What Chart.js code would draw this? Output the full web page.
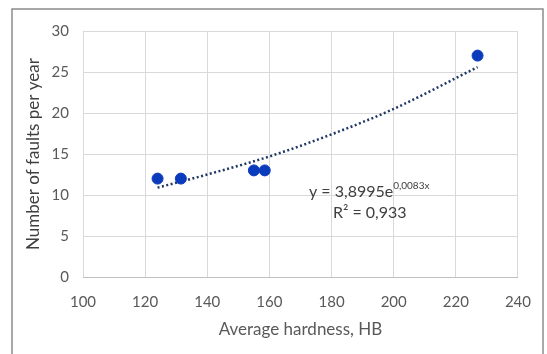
<!DOCTYPE html>
<html lang="en">
<head>
  <meta charset="UTF-8" />
  <title>Faults vs hardness</title>
  <script src="https://cdn.jsdelivr.net/npm/chart.js"></script>
  <style>
    html, body { margin: 0; padding: 0; background: #fff; }
    #wrap { width: 547px; height: 354px; position: relative; }
  </style>
</head>
<body>
  <div id="wrap"><canvas id="chart" width="547" height="354"></canvas></div>
  <script>
    // measured points
    const hardness = [124, 131.5, 155, 158.5, 227];
    const faults = [12, 12, 13, 13, 27];
    // exponential trendline
    const trendX = [124, 140, 160, 180, 200, 227];
    const trendY = [10.9, 12.5, 14.7, 17.4, 20.5, 25.6];
    const equationText = "y = 3,8995e";
    const equationExp = "0,0083x";
    const r2Text = "R\u00b2 = 0,933";

    const FONT = "Lato, 'Liberation Sans', sans-serif";
    const GREY = "#595959";

    const frameAndLabels = {
      id: "frameAndLabels",
      afterDraw(chart) {
        const ctx = chart.ctx;
        ctx.save();
        ctx.strokeStyle = "#8c8c8c";
        ctx.lineWidth = 1.5;
        ctx.strokeRect(12, 9, 531, 360);
        ctx.fillStyle = "#404040";
        ctx.textBaseline = "alphabetic";
        ctx.font = "16px " + FONT;
        ctx.fillText(equationText, 309, 197);
        const w = ctx.measureText(equationText).width;
        ctx.font = "10px " + FONT;
        ctx.fillText(equationExp, 309 + w, 189);
        ctx.font = "16px " + FONT;
        ctx.fillText(r2Text, 333, 218);
        ctx.restore();
      }
    };

    new Chart(document.getElementById("chart"), {
      type: "scatter",
      data: {
        datasets: [
          {
            label: "Faults",
            data: hardness.map((x, i) => ({ x, y: faults[i] })),
            backgroundColor: "#0b3bbd",
            borderColor: "#0b3bbd",
            pointRadius: 5.5,
            order: 1
          },
          {
            label: "Trend",
            type: "line",
            data: trendX.map((x, i) => ({ x, y: trendY[i] })),
            borderColor: "#203864",
            borderWidth: 2.5,
            borderDash: [2, 2.5],
            pointRadius: 0,
            fill: false,
            cubicInterpolationMode: "monotone",
            order: 2
          }
        ]
      },
      options: {
        responsive: false,
        animation: false,
        layout: { padding: { left: 0, top: 31, right: 22, bottom: 0 } },
        plugins: { legend: { display: false }, tooltip: { enabled: false } },
        scales: {
          x: {
            type: "linear",
            min: 100, max: 240,
            ticks: { stepSize: 20, color: GREY, font: { family: FONT, size: 15 }, padding: 16 },
            grid: { color: "#d9d9d9", drawTicks: false },
            border: { display: true, color: "#bfbfbf" },
            title: { display: true, text: "Average hardness, HB", color: GREY, font: { family: FONT, size: 17 }, padding: { top: 0, bottom: 14 } },
            afterFit(scale) { scale.height = 77; }
          },
          y: {
            min: 0, max: 30,
            ticks: { stepSize: 5, color: GREY, font: { family: FONT, size: 15 }, padding: 14 },
            grid: { color: "#d9d9d9", drawTicks: false },
            border: { display: false },
            title: { display: true, text: "Number of faults per year", color: "#404040", font: { family: FONT, size: 17 }, padding: { top: 23, bottom: 0 } },
            afterFit(scale) { scale.width = 83; }
          }
        }
      },
      plugins: [frameAndLabels]
    });
  </script>
</body>
</html>
